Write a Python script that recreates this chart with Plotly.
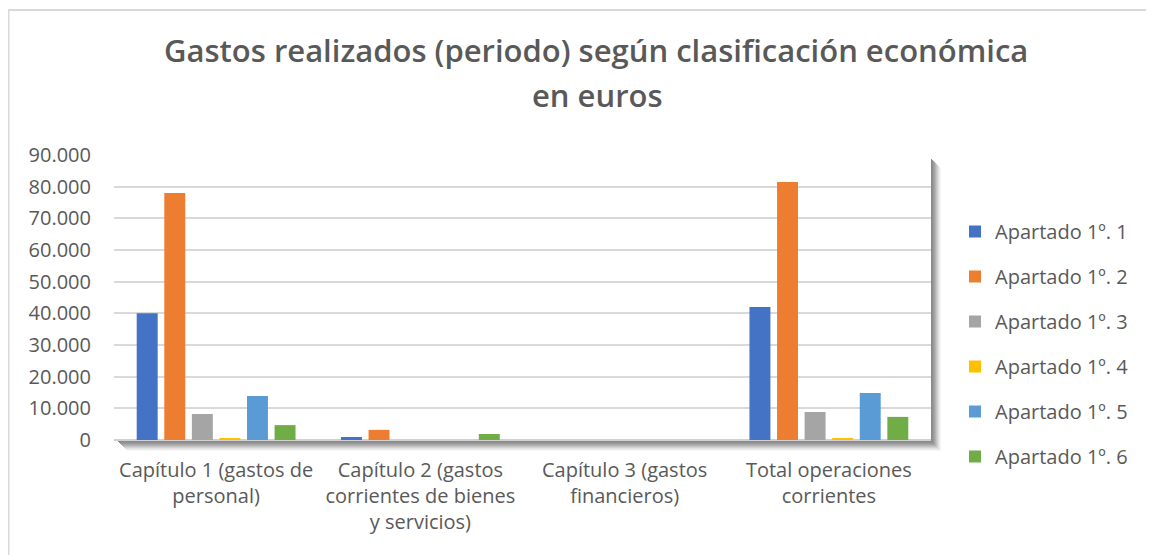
import plotly.graph_objects as go

categories = [
    "Capítulo 1 (gastos de<br>personal)",
    "Capítulo 2 (gastos<br>corrientes de bienes<br>y servicios)",
    "Capítulo 3 (gastos<br>financieros)",
    "Total operaciones<br>corrientes",
]
series_names = ["Apartado 1º. 1", "Apartado 1º. 2", "Apartado 1º. 3",
                "Apartado 1º. 4", "Apartado 1º. 5", "Apartado 1º. 6"]
apartado_1 = [40000, 950, 0, 42000]
apartado_2 = [78000, 3200, 0, 81500]
apartado_3 = [8200, 0, 0, 8850]
apartado_4 = [650, 0, 0, 650]
apartado_5 = [13900, 0, 0, 14850]
apartado_6 = [4700, 1900, 0, 7300]
series_values = [apartado_1, apartado_2, apartado_3, apartado_4, apartado_5, apartado_6]
colors = ["#4472C4", "#ED7D31", "#A5A5A5", "#FFC000", "#5B9BD5", "#70AD47"]
y_ticks = list(range(0, 90001, 10000))

OFF = 8  # page body margin
W, H = 1154 - OFF, 555 - OFF
# plot area in page pixels
PL, PR, PT, PB = 114, 931, 155, 440


def px_x(p):
    return (p - PL) / (PR - PL)


def px_y(p):
    return (PB - p) / (PB - PT)


FONT = "Open Sans"
TXT = "#595959"

fig = go.Figure()
for i, (name, vals, c) in enumerate(zip(series_names, series_values, colors)):
    fig.add_trace(go.Bar(name=name, x=categories, y=vals, marker_color=c,
                         marker_line_width=0, legendgroup=f"g{i}"))

shapes = []
# outer chart border
shapes.append(dict(type="rect", xref="paper", yref="paper",
                   x0=px_x(OFF + 0.5), x1=px_x(1180), y0=px_y(10), y1=px_y(580),
                   line=dict(color="#d9d9d9", width=2), fillcolor="rgba(0,0,0,0)",
                   layer="below"))
# plot-area shadow (right and bottom strips)
shade = ["#8a8a8a", "#909090", "#9a9a9a", "#a6a6a6", "#b4b4b4", "#c3c3c3",
         "#d2d2d2", "#e0e0e0", "#ececec", "#f6f6f6"]
for k, col in enumerate(shade):
    shapes.append(dict(type="rect", xref="paper", yref="paper",
                       x0=px_x(PR + k), x1=px_x(PR + k + 1.05),
                       y0=px_y(PB + 2 + k), y1=px_y(PT + 4 + k),
                       line_width=0, fillcolor=col, layer="below"))
    shapes.append(dict(type="rect", xref="paper", yref="paper",
                       x0=px_x(PL + 4 + k), x1=px_x(PR + k + 1),
                       y0=px_y(PB + 2 + k), y1=px_y(PB + 1 + k),
                       line_width=0, fillcolor=col, layer="below"))

fig.update_layout(
    width=W, height=H,
    margin=dict(l=PL - OFF, r=W - (PR - OFF), t=PT - OFF, b=H - (PB - OFF), pad=0,
                autoexpand=False),
    paper_bgcolor="white", plot_bgcolor="white",
    barmode="group", bargap=0.19, bargroupgap=0.24,
    separators=",.",
    font=dict(family=FONT, color=TXT),
    showlegend=True,
    legend=dict(x=px_x(955), y=px_y(212), xanchor="left", yanchor="top",
                traceorder="grouped", tracegroupgap=16,
                font=dict(size=20, color=TXT, family=FONT),
                bgcolor="rgba(0,0,0,0)"),
    shapes=shapes,
    annotations=[
        dict(text="Gastos realizados (periodo) según clasificación económica",
             xref="paper", yref="paper", x=px_x(596), y=px_y(50),
             xanchor="center", yanchor="middle", showarrow=False,
             font=dict(size=31, color=TXT, family=FONT, weight=600)),
        dict(text="en euros",
             xref="paper", yref="paper", x=px_x(597), y=px_y(95),
             xanchor="center", yanchor="middle", showarrow=False,
             font=dict(size=31, color=TXT, family=FONT, weight=600)),
    ],
)
fig.update_xaxes(showgrid=False, showline=False, ticks="", zeroline=False,
                 tickfont=dict(size=20, color=TXT, family=FONT),
                 ticklabelstandoff=16, fixedrange=True)
fig.update_yaxes(range=[0, 90000], tickvals=y_ticks, tickformat=",d",
                 showgrid=True, gridcolor="#d9d9d9", gridwidth=1.6,
                 zeroline=True, zerolinecolor="#d0d0d0", zerolinewidth=2.2,
                 showline=False, ticks="",
                 tickfont=dict(size=20, color=TXT, family=FONT),
                 ticklabelstandoff=22, fixedrange=True)

fig.write_html("out.html")
